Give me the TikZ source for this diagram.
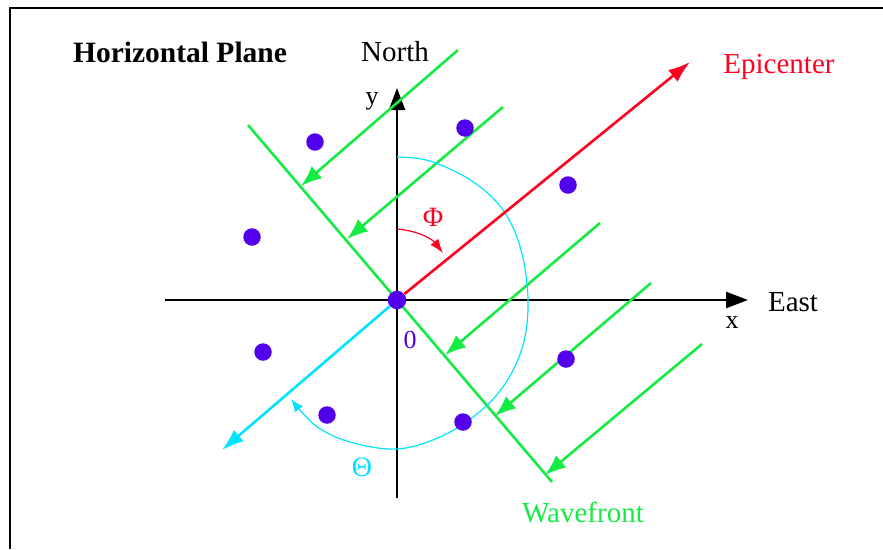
\documentclass[tikz,border=0pt]{standalone}
\usepackage{fontspec}
\setmainfont{Liberation Serif}
\usetikzlibrary{arrows.meta}
\definecolor{wavegreen}{RGB}{20,236,68}
\definecolor{epired}{RGB}{255,0,32}
\definecolor{thetacyan}{RGB}{0,228,255}
\definecolor{stationviolet}{RGB}{82,0,236}
\begin{document}
\begin{tikzpicture}[x=1pt,y=-1pt,
  lbl/.style={inner sep=0pt,font=\fontsize{29}{32}\selectfont},
  small/.style={inner sep=0pt,font=\fontsize{26}{28}\selectfont},
  greek/.style={inner sep=0pt,font=\fontsize{28}{30}\selectfont},
  station/.style={circle,fill=stationviolet,inner sep=0pt,minimum size=17.5pt},
  axis/.style={line width=2.4pt,-{Triangle[length=22pt,width=16pt]}},
  ray/.style={line width=2.6pt,-{Latex[length=22pt,width=15pt]}},
  wave/.style={wavegreen,line width=2.6pt},
  wavearrow/.style={wave,-{Latex[length=21pt,width=16pt]}}]
\useasboundingbox (0,0) rectangle (883,549);
\draw[line width=2.5pt] (10,549) -- (10,8) -- (883,8);

\node[lbl] (title) at (180,52) {\bfseries\fontsize{29.5}{32}\selectfont Horizontal Plane};
\node[lbl] (north) at (395,52) {North};
\node[lbl] (east) at (793,302) {East};
\node[lbl,text=epired] (epilabel) at (779,67) {Epicenter};
\node[lbl,text=wavegreen] (wavelabel) at (583,513) {Wavefront};
\node[small] (ylabel) at (372,101) {y};
\node[small] (xlabel) at (732,323) {x};
\node[small,text=stationviolet] (zero) at (410,340) {0};
\node[greek,text=epired] (phi) at (433,217) {Φ};
\node[greek,text=thetacyan] (theta) at (362,467) {Θ};

\coordinate (xw) at (165,300);
\coordinate (xe) at (748,300);
\coordinate (ys) at (397,498);
\coordinate (yn) at (397,88);
\draw[axis] (xw) -- (xe);
\draw[axis] (ys) -- (yn);

\coordinate (wn) at (248,125);
\coordinate (ws) at (552,482);
\draw[wave] (wn) -- (ws);

\coordinate (g1) at (458,50);  \coordinate (t1) at (301,186);
\coordinate (g2) at (503,107); \coordinate (t2) at (347,239);
\coordinate (g3) at (600,223); \coordinate (t3) at (445,355);
\coordinate (g4) at (651,283); \coordinate (t4) at (495,416);
\coordinate (g5) at (702,344); \coordinate (t5) at (545,475);
\foreach \i in {1,...,5}
  \draw[wavearrow] (g\i) -- (t\i);

\draw[thetacyan,line width=1.2pt,-{Latex[length=13pt,width=10pt]}]
  plot[smooth,tension=0.6] coordinates {(397,157) (430,161) (472,181) (503,210)
  (521,250) (528,300) (523,345) (505,384) (477,414) (440,437) (397,449)
  (350,442) (316,426) (291,399)};
\draw[epired,line width=1.2pt,-{Latex[length=14pt,width=10pt]}]
  (397,229) .. controls (420,231) and (433,240) .. (443,253);

\node[station,minimum size=18.5pt] (o) at (397,300) {};
\node[station] (s1) at (315,142) {};
\node[station] (s2) at (465,128) {};
\node[station] (s3) at (568,185) {};
\node[station] (s4) at (252,237) {};
\node[station] (s5) at (263,352) {};
\node[station] (s6) at (327,415) {};
\node[station] (s7) at (463,422) {};
\node[station] (s8) at (566,359) {};

\coordinate (epi) at (690,62);
\coordinate (away) at (222,450);
\draw[ray,epired] (o) -- (epi);
\draw[ray,thetacyan] (o) -- (away);
\end{tikzpicture}
\end{document}
